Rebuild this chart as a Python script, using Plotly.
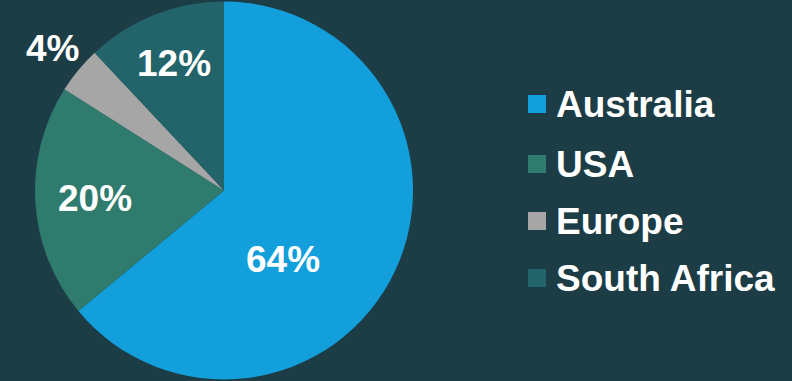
import math
import plotly.graph_objects as go

regions = ["Australia", "USA", "Europe", "South Africa"]
shares = [64, 20, 4, 12]
colors = ["#139fdb", "#2f7b6e", "#a6a6a6", "#23646b"]
# label placement style: radial fraction of radius, angular shift (deg) from slice middle
label_frac = [0.48, 0.685, 1.18, 0.72]
label_shift = [24, 0, 0, 0]

BG = "#1c3d46"
FONT = "Liberation Sans, Arial, sans-serif"
W, H = 792, 381
DX0, DX1 = 35, 413

fig = go.Figure()
fig.add_trace(go.Pie(
    labels=regions,
    values=shares,
    sort=False,
    direction="clockwise",
    rotation=0,
    marker=dict(colors=colors, line=dict(width=0)),
    textinfo="none",
    domain=dict(x=[DX0 / W, DX1 / W], y=[0, 1]),
    showlegend=False,
    hoverinfo="label+percent",
))

# data labels, placed from the slice angles
cx = (DX0 + DX1) / 2
cy = H / 2
r = min(DX1 - DX0, H) / 2
total = sum(shares)
cum = 0
for v, frac, sh in zip(shares, label_frac, label_shift):
    mid = (cum + v / 2) / total * 360 + sh
    cum += v
    th = math.radians(mid)
    px = cx + frac * r * math.sin(th)
    py = cy - frac * r * math.cos(th)
    fig.add_annotation(xref="paper", yref="paper", x=px / W, y=1 - py / H,
                       xanchor="center", yanchor="middle", showarrow=False,
                       text=f"<b>{round(v / total * 100)}%</b>",
                       font=dict(family=FONT, size=37, color="white"))

# custom legend
legend_x0 = 528
legend_y = [104, 164, 221, 278]
sq = 18
for name, col, yc in zip(regions, colors, legend_y):
    fig.add_shape(type="rect", xref="paper", yref="paper",
                  x0=legend_x0 / W, x1=(legend_x0 + sq) / W,
                  y0=1 - (yc + sq / 2) / H, y1=1 - (yc - sq / 2) / H,
                  fillcolor=col, line=dict(width=0))
    fig.add_annotation(xref="paper", yref="paper",
                       x=(legend_x0 + sq + 8) / W, y=1 - yc / H,
                       xanchor="left", yanchor="middle", showarrow=False,
                       text=f"<b>{name}</b>",
                       font=dict(family=FONT, size=37, color="white"))

fig.update_layout(
    width=W, height=H,
    margin=dict(l=0, r=0, t=0, b=0),
    paper_bgcolor=BG, plot_bgcolor=BG,
)
fig.write_html("out.html")
